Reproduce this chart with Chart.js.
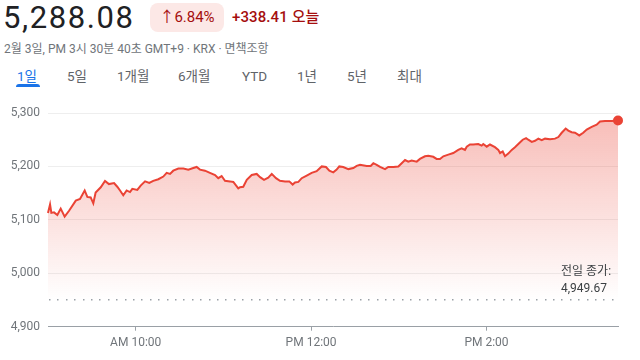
<!DOCTYPE html>
<html lang="ko">
<head>
<meta charset="utf-8">
<title>KOSPI 1일</title>
<script src="https://cdn.jsdelivr.net/npm/chart.js@4"></script>
<style>
  html, body { margin: 0; padding: 0; background: #fff; }
  body { width: 640px; height: 360px; position: relative; overflow: hidden;
         font-family: Roboto, "Noto Sans CJK KR", "Noto Sans", sans-serif; }
  .abs { position: absolute; white-space: nowrap; }
  #price { left: 3px; top: 0; height: 36px; line-height: 36px; font-size: 31px; letter-spacing: 1.6px; color: #202124; }
  #badge { left: 150px; top: 3px; width: 74px; height: 29px; line-height: 29px; border-radius: 8px;
           background: #fce8e6; color: #a50e0e; font-size: 15px; text-align: center; }
  #change { left: 232px; top: 3px; height: 29px; line-height: 29px; font-size: 15px; letter-spacing: 0.1px; color: #a50e0e; font-weight: 500; }
  #sub { left: 4px; top: 40px; height: 18px; line-height: 18px; font-size: 12px; color: #70757a; }
  .tab { top: 66px; height: 20px; line-height: 20px; font-size: 13.5px; color: #5f6368; }
  .tab.active { color: #1a73e8; }
  #underline { left: 16px; top: 84px; width: 24px; height: 3px; background: #1a73e8; border-radius: 3px 3px 0 0; }
  #wrap { position: absolute; left: 0; top: 95px; width: 640px; height: 265px; }
</style>
</head>
<body>
<div class="abs" id="price">5,288.08</div>
<div class="abs" id="badge">↑6.84%</div>
<div class="abs" id="change">+338.41 오늘</div>
<div class="abs" id="sub">2월 3일, PM 3시 30분 40초 GMT+9 · KRX · 면책조항</div>

<div class="abs tab active" style="left:17px">1일</div>
<div class="abs tab" style="left:67px">5일</div>
<div class="abs tab" style="left:117px">1개월</div>
<div class="abs tab" style="left:178px">6개월</div>
<div class="abs tab" style="left:242px">YTD</div>
<div class="abs tab" style="left:297px">1년</div>
<div class="abs tab" style="left:347px">5년</div>
<div class="abs tab" style="left:397px">최대</div>
<div class="abs" id="underline"></div>

<div id="wrap"><canvas id="chart"></canvas></div>

<script>
// minutes since 09:00
const minutes = [
  0, 1.4, 2.3, 4.1, 6.4, 8.7, 11.4, 14.4, 19.0, 21.9,
  25.1, 26.9, 29.2, 31.0, 32.6, 36.1, 39.0, 41.7, 45.2, 47.4,
  49.3, 51.5, 53.8, 56.1, 57.7, 61.1, 63.4, 66.4, 69.3, 72.0,
  75.5, 78.9, 81.2, 83.5, 85.7, 89.2, 92.6, 96.0, 99.4, 101.7,
  104.0, 107.4, 110.8, 114.3, 116.5, 118.8, 121.1, 124.5, 126.8, 130.2,
  131.4, 133.6, 136.0, 139.4, 142.8, 145.1, 147.8, 150.7, 153.1, 156.0,
  158.7, 162.2, 165.1, 167.4, 169.0, 171.3, 173.6, 177.0, 180.4, 183.8,
  187.3, 190.2, 192.5, 195.2, 197.5, 199.3, 202.0, 205.5, 208.9, 211.2,
  213.5, 218.1, 220.8, 222.6, 224.9, 227.2, 230.6, 232.8, 236.3, 239.7,
  242.0, 244.3, 246.5, 248.8, 252.3, 254.5, 257.9, 260.2, 263.6, 265.9,
  268.2, 270.5, 273.9, 277.3, 280.7, 283.0, 285.3, 286.5, 288.7, 291.0,
  294.4, 296.7, 297.8, 300.2, 302.4, 305.8, 308.1, 309.3, 311.1, 312.7,
  314.9, 317.3, 319.5, 322.5, 324.8, 327.1, 328.6, 331.0, 333.2, 335.5,
  337.8, 340.1, 343.5, 346.9, 349.2, 351.5, 354.2, 356.0, 358.3, 360.6,
  363.5, 366.2, 368.6, 372.0, 375.4, 377.7, 381.1, 385.7, 390
];
const prices = [
  5113, 5129, 5113, 5114, 5109, 5121, 5106, 5117, 5136, 5139,
  5155, 5143, 5142, 5131, 5151, 5161, 5173, 5167, 5169, 5162,
  5155, 5146, 5155, 5152, 5158, 5156, 5164, 5172, 5169, 5173,
  5176, 5181, 5188, 5186, 5192, 5196, 5196, 5194, 5197, 5199,
  5194, 5192, 5188, 5184, 5178, 5182, 5173, 5172, 5171, 5159,
  5161, 5162, 5175, 5184, 5186, 5180, 5175, 5179, 5186, 5178,
  5173, 5172, 5172, 5166, 5170, 5171, 5178, 5183, 5188, 5191,
  5200, 5199, 5192, 5189, 5194, 5200, 5199, 5195, 5197, 5201,
  5203, 5201, 5201, 5206, 5203, 5199, 5195, 5199, 5199, 5200,
  5206, 5212, 5209, 5211, 5209, 5214, 5219, 5220, 5218, 5214,
  5214, 5219, 5222, 5225, 5231, 5234, 5231, 5237, 5241, 5241,
  5242, 5239, 5242, 5237, 5241, 5236, 5231, 5225, 5228, 5219,
  5224, 5231, 5236, 5244, 5250, 5253, 5250, 5246, 5248, 5252,
  5249, 5252, 5251, 5252, 5255, 5263, 5271, 5267, 5264, 5263,
  5258, 5263, 5269, 5274, 5278, 5284, 5285, 5285, 5286
];
const prevClose = 4949.67;
const yTicks = [4900, 5000, 5100, 5200, 5300];
const xTickMinutes = [60, 180, 300];
const xTickLabels = ['AM 10:00', 'PM 12:00', 'PM 2:00'];

const RED = '#ea4335';
const FONT = "Roboto, 'Noto Sans CJK KR', sans-serif";

// dotted previous-close line + its label
const prevClosePlugin = {
  id: 'prevClose',
  afterDatasetsDraw(chart) {
    const { ctx, chartArea } = chart;
    const y = Math.round(chart.scales.y.getPixelForValue(prevClose));
    ctx.save();
    ctx.fillStyle = '#9aa0a6';
    for (let x = chartArea.left + 1; x < chartArea.right; x += 8.4) {
      ctx.fillRect(Math.round(x), y - 1, 1.5, 1.5);
    }
    ctx.fillStyle = '#3c4043';
    ctx.font = '12px ' + FONT;
    ctx.textAlign = 'left';
    ctx.textBaseline = 'middle';
    const lx = chartArea.right - 57;
    ctx.fillText('전일 종가:', lx, y - 28);
    ctx.fillText(prevClose.toLocaleString('en-US'), lx, y - 11);
    ctx.restore();
  }
};

new Chart(document.getElementById('chart').getContext('2d'), {
  type: 'line',
  data: {
    datasets: [{
      data: minutes.map((m, i) => ({ x: m, y: prices[i] })),
      borderColor: RED,
      borderWidth: 2,
      tension: 0,
      clip: false,
      pointRadius: ctx => (ctx.dataIndex === prices.length - 1 ? 5 : 0),
      pointBackgroundColor: RED,
      pointBorderWidth: 0,
      fill: { value: prevClose },
      backgroundColor: ctx => {
        const { chart } = ctx;
        const area = chart.chartArea;
        if (!area) return 'rgba(234,67,53,0.15)';
        const bottom = chart.scales.y.getPixelForValue(prevClose);
        const g = chart.ctx.createLinearGradient(0, area.top, 0, bottom);
        g.addColorStop(0, 'rgba(234,67,53,0.36)');
        g.addColorStop(1, 'rgba(234,67,53,0.0)');
        return g;
      }
    }]
  },
  options: {
    responsive: true,
    maintainAspectRatio: false,
    animation: false,
    layout: { padding: { top: 18, right: 22, left: 0, bottom: 0 } },
    plugins: { legend: { display: false }, tooltip: { enabled: false } },
    scales: {
      x: {
        type: 'linear',
        min: 0,
        max: 390,
        afterBuildTicks: s => { s.ticks = xTickMinutes.map(v => ({ value: v })); },
        afterFit: s => { s.height = 33.3; },
        grid: { drawOnChartArea: false, drawTicks: true, tickLength: 4, color: '#9aa0a6' },
        border: { display: true, color: '#9aa0a6', width: 1 },
        ticks: {
          padding: 5,
          color: '#70757a',
          font: { family: FONT, size: 12 },
          maxRotation: 0,
          callback: (v, i) => xTickLabels[i]
        }
      },
      y: {
        min: yTicks[0],
        max: yTicks[yTicks.length - 1],
        afterBuildTicks: s => { s.ticks = yTicks.map(v => ({ value: v })); },
        afterFit: s => { s.width = 48; },
        grid: { color: '#eeeeee', drawTicks: false },
        border: { display: false },
        ticks: {
          padding: 8,
          color: '#70757a',
          font: { family: FONT, size: 12 },
          callback: v => v.toLocaleString('en-US')
        }
      }
    }
  },
  plugins: [prevClosePlugin]
});
</script>
</body>
</html>
